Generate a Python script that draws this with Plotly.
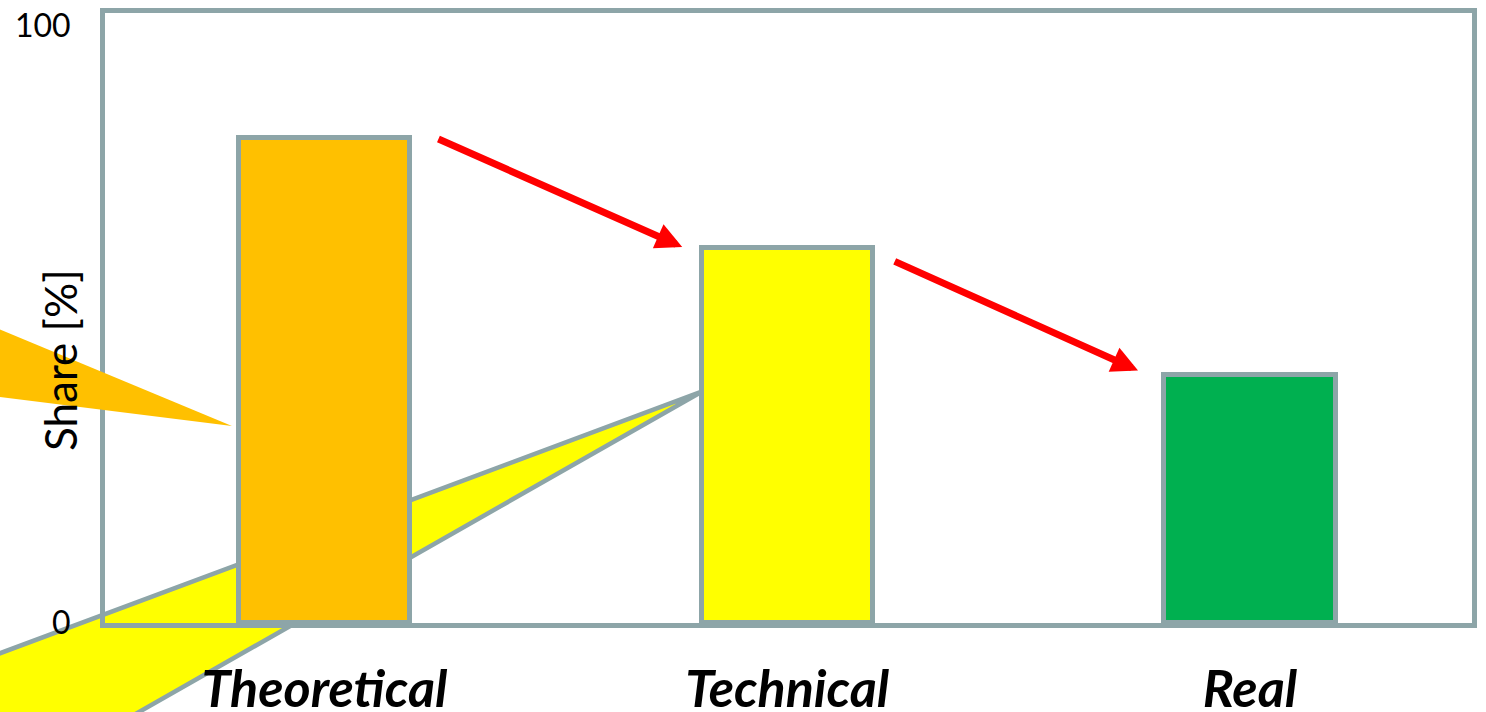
import plotly.graph_objects as go

# ---- data -------------------------------------------------------------
categories = ["Theoretical", "Technical", "Real"]
share_values = [81.3, 62.9, 41.6]
bar_colors = ["#FFC000", "#FFFF00", "#00B050"]
y_tick_values = [0, 100]
y_tick_labels = ["0", "100"]

# arrows between the bar tops: (x_tail, y_tail, x_tip, y_tip) in data units
arrow_segments = [
    (0.243, 81.2, 0.773, 63.0),
    (1.229, 60.7, 1.758, 42.3),
]

# ---- layout constants -------------------------------------------------
W, H = 1486, 712
M_L, M_R, M_T, M_B = 105, 14, 13, 89
X_RANGE = [-0.4743, 2.4797]
Y_RANGE = [0, 102.2]
BAR_W = 0.37
FRAME = "#8DA5A8"
FONT = "Lato"

plot_w = W - M_L - M_R
plot_h = H - M_T - M_B


def data_to_paper(x, y):
    return ((x - X_RANGE[0]) / (X_RANGE[1] - X_RANGE[0]),
            (y - Y_RANGE[0]) / (Y_RANGE[1] - Y_RANGE[0]))


def pixel_to_paper(px, py):
    return ((px - M_L) / plot_w, (H - M_B - py) / plot_h)


def path_from(points):
    return "M " + " L ".join(f"{x:.5f},{y:.5f}" for x, y in points) + " Z"


fig = go.Figure()
fig.add_trace(go.Bar(
    x=categories,
    y=share_values,
    width=BAR_W,
    marker=dict(color=bar_colors, line=dict(color=FRAME, width=5)),
    hoverinfo="skip",
))

# yellow wedge fanning out from the Technical bar toward the lower left
apex_y = data_to_paper(1 - BAR_W / 2, 38.75)
yellow_wedge = [
    apex_y,
    pixel_to_paper(-60, 675.6),
    pixel_to_paper(-60, 790),
    pixel_to_paper(2, 790),
]
# orange wedge pointing at the Theoretical bar from the left edge
apex_o = data_to_paper(-0.2, 33.0)
orange_wedge = [
    apex_o,
    pixel_to_paper(-40, 313),
    pixel_to_paper(-40, 392),
]

shapes = [
    dict(type="path", xref="paper", yref="paper", layer="below",
         path=path_from(yellow_wedge), fillcolor="#FFFF00",
         line=dict(color=FRAME, width=4.5)),
    dict(type="path", xref="paper", yref="paper", layer="above",
         path=path_from(orange_wedge), fillcolor="#FFC000",
         line=dict(width=0)),
]

annotations = []
for x0, y0, x1, y1 in arrow_segments:
    annotations.append(dict(
        x=x1, y=y1, ax=x0, ay=y0, xref="x", yref="y", axref="x", ayref="y",
        text="", showarrow=True, arrowhead=2, arrowsize=0.75, arrowwidth=7,
        arrowcolor="#FF0000", standoff=0, startstandoff=0,
    ))

annotations.append(dict(
    x=pixel_to_paper(60, 0)[0], y=pixel_to_paper(0, 360)[1],
    xref="paper", yref="paper", text="Share [%]", textangle=-90,
    showarrow=False, xanchor="center", yanchor="middle",
    font=dict(family=FONT, size=44, color="black"),
))

fig.update_layout(
    width=W, height=H,
    margin=dict(l=M_L, r=M_R, t=M_T, b=M_B, pad=0, autoexpand=False),
    paper_bgcolor="white", plot_bgcolor="white",
    showlegend=False,
    shapes=shapes,
    annotations=annotations,
    bargap=0,
)
fig.update_xaxes(
    range=X_RANGE, showgrid=False, zeroline=False, automargin=False,
    showline=True, mirror=True, linecolor=FRAME, linewidth=5,
    ticks="", ticklabelstandoff=17,
    tickfont=dict(family=FONT, size=52, color="black", weight="bold", style="italic"),
)
fig.update_yaxes(
    range=Y_RANGE, showgrid=False, zeroline=False, automargin=False,
    showline=True, mirror=True, linecolor=FRAME, linewidth=5,
    ticks="", tickvals=y_tick_values, ticktext=y_tick_labels,
    ticklabelstandoff=23,
    tickfont=dict(family=FONT, size=32, color="black"),
)

fig.write_html("out.html")
